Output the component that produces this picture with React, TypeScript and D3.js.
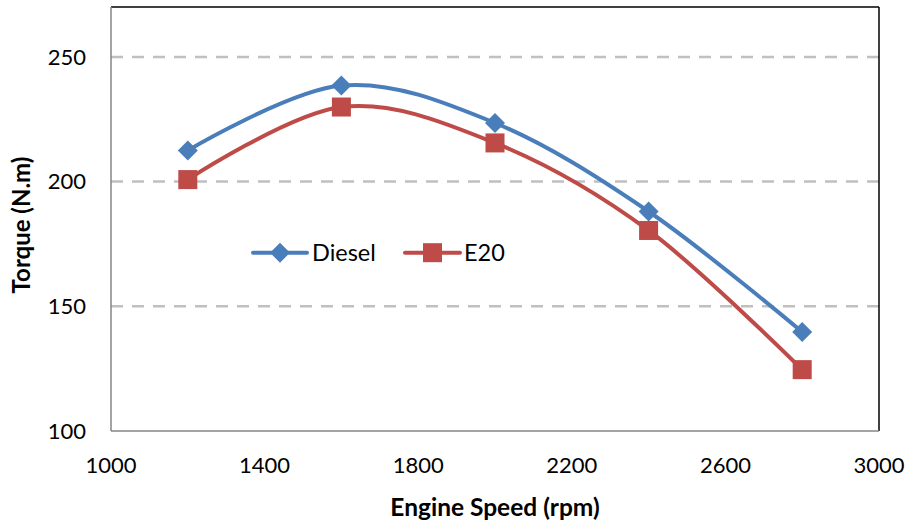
import { useEffect, useRef } from "react";
import * as d3 from "d3";

const speeds = [1200, 1600, 2000, 2400, 2800];
const diesel = [212.5, 238.5, 223.5, 188, 139.7];
const e20 = [200.8, 229.9, 215.5, 180.4, 124.6];
const xTicks = [1000, 1400, 1800, 2200, 2600, 3000];
const yTicks = [100, 150, 200, 250];
const seriesNames = ["Diesel", "E20"];
const seriesColors = ["#4a7ebb", "#be4b48"];

const FONT = "Lato, 'Open Sans', sans-serif";

export default function App() {
  const svgRef = useRef<SVGSVGElement | null>(null);

  useEffect(() => {
    const svg = d3.select(svgRef.current);
    svg.selectAll("*").remove();

    const left = 111, right = 879, top = 7, bottom = 431;
    const x = d3.scaleLinear().domain([1000, 3000]).range([left, right]);
    const y = d3.scaleLinear().domain([100, 270]).range([bottom, top]);

    // gridlines
    svg.append("g")
      .selectAll("line")
      .data(yTicks.filter((t) => t > 100))
      .join("line")
      .attr("x1", left)
      .attr("x2", right)
      .attr("y1", (d) => y(d))
      .attr("y2", (d) => y(d))
      .attr("stroke", "#c0c0c0")
      .attr("stroke-width", 2.5)
      .attr("stroke-dasharray", "12,9");

    // plot frame: top/right dark, axes gray
    svg.append("line").attr("x1", left).attr("x2", right).attr("y1", top).attr("y2", top)
      .attr("stroke", "#000").attr("stroke-width", 1.5);
    svg.append("line").attr("x1", right).attr("x2", right).attr("y1", top).attr("y2", bottom)
      .attr("stroke", "#000").attr("stroke-width", 1.5);
    svg.append("line").attr("x1", left).attr("x2", left).attr("y1", top).attr("y2", bottom)
      .attr("stroke", "#868686").attr("stroke-width", 1.5);
    svg.append("line").attr("x1", left).attr("x2", right).attr("y1", bottom).attr("y2", bottom)
      .attr("stroke", "#868686").attr("stroke-width", 1.5);

    // tick labels
    svg.append("g")
      .selectAll("text")
      .data(yTicks)
      .join("text")
      .attr("x", 86)
      .attr("y", (d) => y(d))
      .attr("dy", "0.35em")
      .attr("text-anchor", "end")
      .attr("font-family", FONT)
      .attr("font-size", 22)
      .attr("fill", "#000")
      .text((d) => d);

    svg.append("g")
      .selectAll("text")
      .data(xTicks)
      .join("text")
      .attr("x", (d) => x(d))
      .attr("y", 465)
      .attr("dy", "0.35em")
      .attr("text-anchor", "middle")
      .attr("font-family", FONT)
      .attr("font-size", 22)
      .attr("fill", "#000")
      .text((d) => d);

    // axis titles
    svg.append("text")
      .attr("x", 495)
      .attr("y", 507)
      .attr("dy", "0.35em")
      .attr("text-anchor", "middle")
      .attr("font-family", FONT)
      .attr("font-weight", "bold")
      .attr("font-size", 24.5)
      .text("Engine Speed (rpm)");

    svg.append("text")
      .attr("transform", `translate(22,${(top + bottom) / 2 + 6}) rotate(-90)`)
      .attr("dy", "0.35em")
      .attr("text-anchor", "middle")
      .attr("font-family", FONT)
      .attr("font-weight", "bold")
      .attr("font-size", 24)
      .text("Torque (N.m)");

    const line = d3.line<number>()
      .x((_, i) => x(speeds[i]))
      .y((d) => y(d))
      .curve(d3.curveCatmullRom.alpha(0));

    const all = [diesel, e20];
    const diamond = (cx: number, cy: number, r: number) =>
      `M${cx},${cy - r}L${cx + r},${cy}L${cx},${cy + r}L${cx - r},${cy}Z`;

    all.forEach((vals, si) => {
      const color = seriesColors[si];
      svg.append("path")
        .datum(vals)
        .attr("d", line)
        .attr("fill", "none")
        .attr("stroke", color)
        .attr("stroke-width", 4);
      const g = svg.append("g");
      vals.forEach((v, i) => {
        const cx = x(speeds[i]), cy = y(v);
        if (si === 0) {
          g.append("path").attr("d", diamond(cx, cy, 10)).attr("fill", color);
        } else {
          g.append("rect").attr("x", cx - 9.5).attr("y", cy - 9.5)
            .attr("width", 19).attr("height", 19).attr("fill", color);
        }
      });
    });

    // legend
    const legendItems = [
      { x1: 253, x2: 307, tx: 312 },
      { x1: 405, x2: 460, tx: 464 },
    ];
    const ly = 252.7;
    legendItems.forEach((it, si) => {
      const color = seriesColors[si];
      svg.append("line")
        .attr("x1", it.x1).attr("x2", it.x2).attr("y1", ly).attr("y2", ly)
        .attr("stroke", color).attr("stroke-width", 4).attr("stroke-linecap", "round");
      const mx = (it.x1 + it.x2) / 2;
      if (si === 0) {
        svg.append("path").attr("d", diamond(mx, ly, 10)).attr("fill", color);
      } else {
        svg.append("rect").attr("x", mx - 9.5).attr("y", ly - 9.5)
          .attr("width", 19).attr("height", 19).attr("fill", color);
      }
      svg.append("text")
        .attr("x", it.tx)
        .attr("y", ly)
        .attr("dy", "0.35em")
        .attr("font-family", FONT)
        .attr("font-size", 23.5)
        .attr("fill", "#000")
        .text(seriesNames[si]);
    });
  }, []);

  return (
    <svg
      ref={svgRef}
      width={909}
      height={521}
      style={{ position: "absolute", left: 0, top: 0, background: "#fff" }}
    />
  );
}
